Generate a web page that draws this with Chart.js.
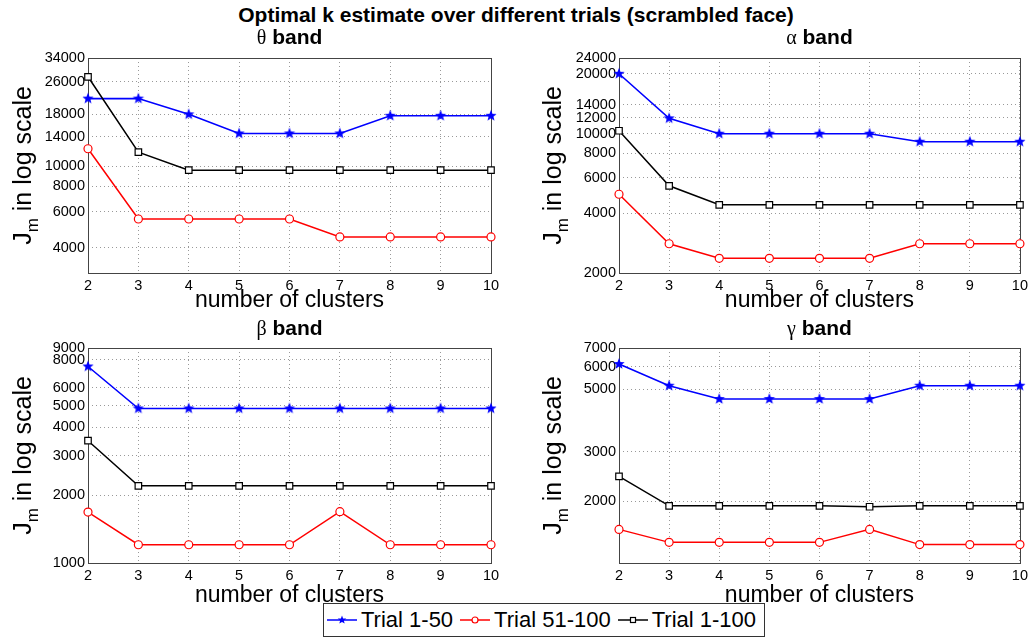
<!DOCTYPE html>
<html>
<head>
<meta charset="utf-8">
<script src="https://cdn.jsdelivr.net/npm/chart.js@4.4.1/dist/chart.umd.min.js"></script>
<style>
  body { margin: 0; background: #fff; font-family: 'Liberation Sans', Arial, sans-serif; }
  #wrap { position: relative; width: 1032px; height: 640px; overflow: hidden; }
  #title { position: absolute; left: 0; top: 3px; width: 1032px; text-align: center;
           font-weight: bold; font-size: 21px; line-height: 24px; color: #000; }
  canvas { position: absolute; }
  #legend { position: absolute; left: 323px; top: 603px; width: 440px; height: 32px;
            border: 1px solid #333; background: #fff; display: flex; align-items: center;
            font-size: 22px; color: #000; z-index: 5; }
  #legend .item { display: flex; align-items: center; margin-left: 2px; }
  #legend svg { margin-right: 3px; }
</style>
</head>
<body>
<div id="wrap">
  <div id="title">Optimal k estimate over different trials (scrambled face)</div>
  <canvas id="theta" width="516" height="290" style="left:0;top:28px"></canvas>
  <canvas id="alpha" width="516" height="290" style="left:516px;top:28px"></canvas>
  <canvas id="beta" width="516" height="291" style="left:0;top:318px"></canvas>
  <canvas id="gamma" width="516" height="291" style="left:516px;top:318px"></canvas>
  <div id="legend">
    <div class="item">
      <svg width="32" height="20"><line x1="1" y1="10" x2="31" y2="10" stroke="#0000ff" stroke-width="1.5"/>
        <polygon points="16,5.5 17.1,8.5 20.3,8.6 17.8,10.6 18.7,13.6 16,11.9 13.3,13.6 14.2,10.6 11.7,8.6 14.9,8.5" fill="#0000ff"/></svg>
      <span>Trial 1-50</span>
    </div>
    <div class="item" style="margin-left:6px">
      <svg width="32" height="20"><line x1="1" y1="10" x2="31" y2="10" stroke="#ff0000" stroke-width="1.5"/>
        <circle cx="16" cy="10" r="3" fill="#fff" stroke="#ff0000" stroke-width="1.2"/></svg>
      <span>Trial 51-100</span>
    </div>
    <div class="item" style="margin-left:6px">
      <svg width="32" height="20"><line x1="1" y1="10" x2="31" y2="10" stroke="#000" stroke-width="1.5"/>
        <rect x="13.5" y="7.5" width="5" height="5" fill="#fff" stroke="#000" stroke-width="1.2"/></svg>
      <span>Trial 1-100</span>
    </div>
  </div>
</div>
<script>
const clusters = [2, 3, 4, 5, 6, 7, 8, 9, 10];
const seriesNames = ['Trial 1-50', 'Trial 51-100', 'Trial 1-100'];

// theta band
const thetaTrial1to50 = [21500, 21500, 18000, 14500, 14500, 14500, 17700, 17700, 17700];
const thetaTrial51to100 = [12200, 5520, 5520, 5520, 5520, 4510, 4510, 4510, 4510];
const thetaTrial1to100 = [27500, 11750, 9580, 9580, 9580, 9580, 9580, 9580, 9580];
const thetaTicks = [4000, 6000, 8000, 10000, 14000, 18000, 26000, 34000];

// alpha band
const alphaTrial1to50 = [20000, 11950, 10000, 10000, 10000, 10000, 9120, 9120, 9120];
const alphaTrial51to100 = [4970, 2805, 2370, 2370, 2370, 2370, 2805, 2805, 2805];
const alphaTrial1to100 = [10350, 5480, 4400, 4400, 4400, 4400, 4400, 4400, 4400];
const alphaTicks = [2000, 4000, 6000, 8000, 10000, 12000, 14000, 20000, 24000];

// beta band
const betaTrial1to50 = [7450, 4850, 4850, 4850, 4850, 4850, 4850, 4850, 4850];
const betaTrial51to100 = [1683, 1205, 1205, 1205, 1205, 1690, 1205, 1205, 1205];
const betaTrial1to100 = [3490, 2200, 2200, 2200, 2200, 2200, 2200, 2200, 2200];
const betaTicks = [1000, 2000, 3000, 4000, 5000, 6000, 8000, 9000];

// gamma band
const gammaTrial1to50 = [6140, 5145, 4615, 4615, 4615, 4615, 5145, 5145, 5145];
const gammaTrial51to100 = [1592, 1432, 1432, 1432, 1432, 1592, 1406, 1406, 1406];
const gammaTrial1to100 = [2455, 1930, 1930, 1930, 1930, 1915, 1930, 1930, 1930];
const gammaTicks = [2000, 3000, 5000, 6000, 7000];

Chart.defaults.font.family = "'Liberation Sans', Arial, sans-serif";
Chart.defaults.color = '#000';

// filled pentagram marker like matlab 'p'
function makeStar(color, r) {
    const c = document.createElement('canvas');
    const s = Math.ceil(r * 2 + 2);
    c.width = s; c.height = s;
    const g = c.getContext('2d');
    g.fillStyle = color;
    g.beginPath();
    for (let i = 0; i < 10; i++) {
        const rad = i % 2 === 0 ? r : r * 0.42;
        const a = -Math.PI / 2 + i * Math.PI / 5;
        const px = s / 2 + rad * Math.cos(a), py = s / 2 + rad * Math.sin(a);
        if (i === 0) g.moveTo(px, py); else g.lineTo(px, py);
    }
    g.closePath();
    g.fill();
    return c;
}
const starMarker = makeStar('#0000ff', 6);

const panelDecor = {
    id: 'panelDecor',
    beforeDatasetsDraw(chart) {
        const { ctx, chartArea: a } = chart;
        ctx.save();
        ctx.strokeStyle = '#444';
        ctx.lineWidth = 1;
        ctx.strokeRect(Math.round(a.left) + 0.5, Math.round(a.top) + 0.5,
            Math.round(a.right - a.left), Math.round(a.bottom - a.top));
        ctx.restore();
    },
    afterDraw(chart, args, opts) {
        const { ctx, chartArea: a } = chart;
        ctx.save();
        // subplot title: greek letter plain + "band" bold
        const f1 = "20px 'Liberation Serif', 'Times New Roman', serif";
        const f2 = "bold 21px 'Liberation Sans', Arial, sans-serif";
        ctx.fillStyle = '#000';
        ctx.textBaseline = 'middle';
        ctx.font = f1;
        const w1 = ctx.measureText(opts.greek).width;
        ctx.font = f2;
        const w2 = ctx.measureText(' band').width;
        let x = (a.left + a.right) / 2 - (w1 + w2) / 2;
        ctx.font = f1;
        ctx.fillText(opts.greek, x, opts.titleY + 1);
        ctx.font = f2;
        ctx.fillText(' band', x + w1, opts.titleY);

        // y title with subscript m
        const big = "25px 'Liberation Sans', Arial, sans-serif";
        const small = "17px 'Liberation Sans', Arial, sans-serif";
        ctx.translate(opts.yTitleX, (a.top + a.bottom) / 2);
        ctx.rotate(-Math.PI / 2);
        ctx.font = big;
        const wJ = ctx.measureText('J').width;
        const wRest = ctx.measureText(' in log scale').width;
        ctx.font = small;
        const wm = ctx.measureText('m').width;
        let sx = -(wJ + wm + wRest) / 2;
        ctx.textBaseline = 'alphabetic';
        ctx.font = big;
        ctx.fillText('J', sx, 8);
        ctx.font = small;
        ctx.fillText('m', sx + wJ, 15);
        ctx.font = big;
        ctx.fillText(' in log scale', sx + wJ + wm, 8);
        ctx.restore();
    }
};

function makePanel(id, greek, s1, s2, s3, yMin, yMax, yTicks, side, row) {
    const ctx = document.getElementById(id);
    const yWidth = side === 'left' ? 88 : 103;
    const rightPad = side === 'left' ? 25 : 10;
    const yTitleX = side === 'left' ? 23 : 37;
    const xHeight = row === 'top' ? 45 : 46;
    const xTitlePad = row === 'top' ? 4 : 0;
    const titleY = row === 'top' ? 10 : 11;
    return new Chart(ctx, {
        type: 'line',
        data: {
            labels: clusters,
            datasets: [{
                label: seriesNames[0],
                data: s1,
                borderColor: '#0000ff',
                borderWidth: 1.6,
                pointStyle: starMarker,
                order: 3
            }, {
                label: seriesNames[1],
                data: s2,
                borderColor: '#ff0000',
                backgroundColor: '#ffffff',
                borderWidth: 1.5,
                pointStyle: 'circle',
                pointRadius: 4,
                pointBorderWidth: 1.2,
                order: 2
            }, {
                label: seriesNames[2],
                data: s3,
                borderColor: '#000000',
                backgroundColor: '#ffffff',
                borderWidth: 1.5,
                pointStyle: 'rect',
                pointRadius: 4.6,
                pointBorderWidth: 1.2,
                order: 1
            }]
        },
        options: {
            responsive: false,
            animation: false,
            devicePixelRatio: 1,
            layout: { padding: { top: 30, left: 0, right: rightPad, bottom: 0 } },
            plugins: {
                legend: { display: false },
                tooltip: { enabled: false },
                panelDecor: { greek: greek, yTitleX: yTitleX, titleY: titleY }
            },
            scales: {
                x: {
                    type: 'category',
                    offset: false,
                    grid: { color: 'rgba(0,0,0,0.4)', drawTicks: false },
                    border: { display: false, dash: [1, 3] },
                    ticks: { padding: 4, font: { size: 14.5 }, maxRotation: 0, autoSkip: false },
                    title: { display: true, text: 'number of clusters', font: { size: 23 }, padding: { top: 0, bottom: xTitlePad } },
                    afterFit: s => { s.height = xHeight; }
                },
                y: {
                    type: 'logarithmic',
                    min: yMin,
                    max: yMax,
                    grid: { color: 'rgba(0,0,0,0.4)', drawTicks: false },
                    border: { display: false, dash: [1, 3] },
                    ticks: { padding: 3, font: { size: 14.5 }, callback: v => String(v) },
                    afterBuildTicks: s => { s.ticks = yTicks.map(v => ({ value: v })); },
                    afterFit: s => { s.width = yWidth; }
                }
            }
        },
        plugins: [panelDecor]
    });
}

makePanel('theta', 'θ', thetaTrial1to50, thetaTrial51to100, thetaTrial1to100, 3000, 34000, thetaTicks, 'left', 'top');
makePanel('alpha', 'α', alphaTrial1to50, alphaTrial51to100, alphaTrial1to100, 2000, 24000, alphaTicks, 'right', 'top');
makePanel('beta', 'β', betaTrial1to50, betaTrial51to100, betaTrial1to100, 1000, 9000, betaTicks, 'left', 'bottom');
makePanel('gamma', 'γ', gammaTrial1to50, gammaTrial51to100, gammaTrial1to100, 1210, 7000, gammaTicks, 'right', 'bottom');
</script>
</body>
</html>
